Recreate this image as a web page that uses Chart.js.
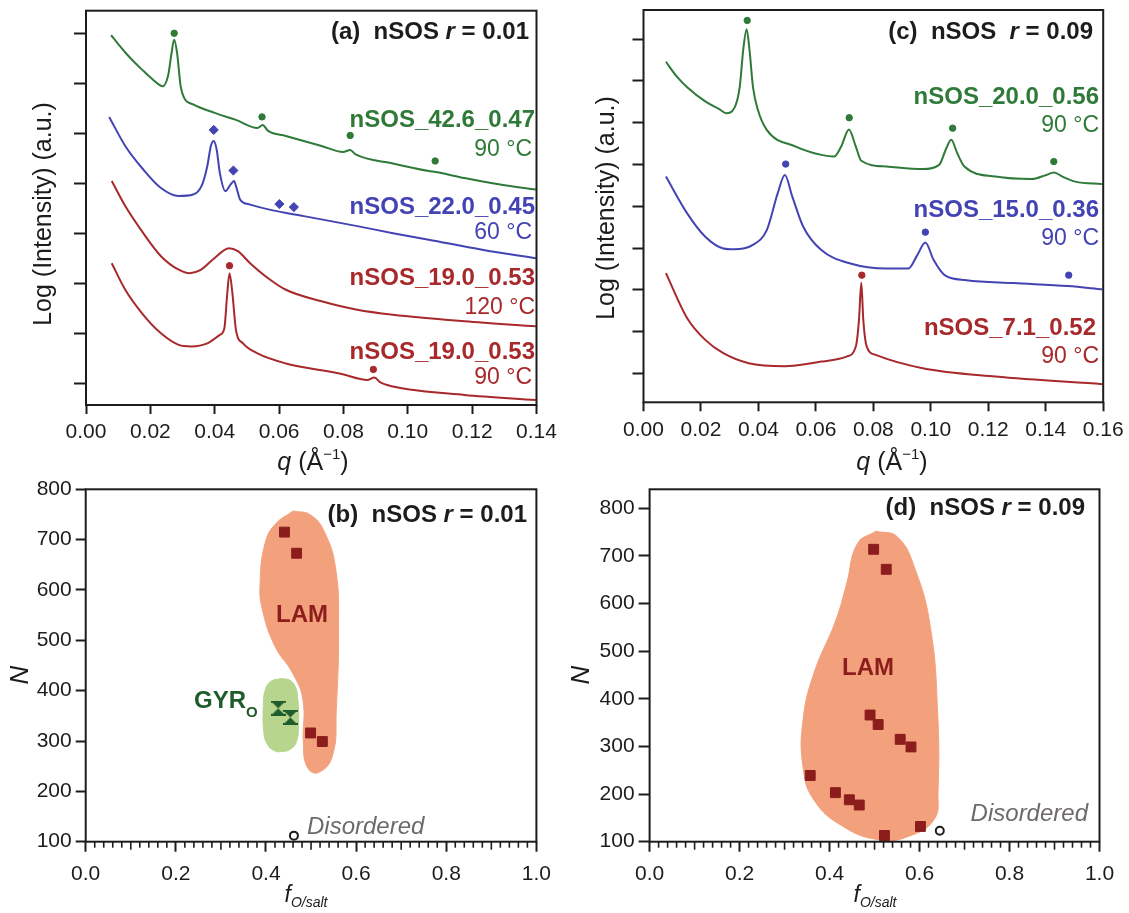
<!DOCTYPE html>
<html>
<head>
<meta charset="utf-8">
<script src="https://cdn.jsdelivr.net/npm/chart.js@4.4.0/dist/chart.umd.min.js"></script>
<style>
  body { margin: 0; background: #fff; }
  #wrap { position: relative; width: 1129px; height: 913px; }
  #wrap canvas { position: absolute; left: 0; top: 0; }
</style>
</head>
<body>
<div id="wrap">
  <canvas id="chartA" width="1129" height="913"></canvas>
  <canvas id="chartC" width="1129" height="913"></canvas>
  <canvas id="chartB" width="1129" height="913"></canvas>
  <canvas id="chartD" width="1129" height="913"></canvas>
</div>
<script>
// ---- (a) nSOS r = 0.01 : SAXS curves, q in 1/A, log intensity shifted (a.u.)
const aXTicks = [0, 0.02, 0.04, 0.06, 0.08, 0.10, 0.12, 0.14];
const aYTicks = [0, 1, 2, 3, 4, 5, 6, 7];

const aGreenQ = [0.0078, 0.0102, 0.0127, 0.0152, 0.0178, 0.0205, 0.0228, 0.0238, 0.0255, 0.0266, 0.0274, 0.0283, 0.0294, 0.0305, 0.0333, 0.0400, 0.0466, 0.0533, 0.0549, 0.0566, 0.0621, 0.0732, 0.0799, 0.0821, 0.0838, 0.0954, 0.1065, 0.1087, 0.1176, 0.1287, 0.1398];
const aGreenI = [6.96, 6.77, 6.58, 6.41, 6.25, 6.09, 5.97, 5.94, 6.15, 6.61, 6.87, 6.61, 5.95, 5.71, 5.58, 5.41, 5.27, 5.11, 5.17, 5.05, 4.95, 4.75, 4.63, 4.67, 4.58, 4.40, 4.25, 4.23, 4.11, 3.98, 3.88];

const aBlueQ = [0.0072, 0.0122, 0.0178, 0.0233, 0.0288, 0.0333, 0.0361, 0.0377, 0.0388, 0.0397, 0.0406, 0.0416, 0.0433, 0.0449, 0.0460, 0.0468, 0.0479, 0.0510, 0.0577, 0.0677, 0.0843, 0.0954, 0.1065, 0.1231, 0.1398];
const aBlueI = [5.33, 4.75, 4.28, 3.91, 3.75, 3.78, 3.98, 4.35, 4.75, 4.85, 4.68, 4.21, 3.85, 3.98, 4.05, 3.91, 3.68, 3.58, 3.47, 3.35, 3.15, 3.01, 2.88, 2.68, 2.51];

const aRed120Q = [0.0080, 0.0122, 0.0178, 0.0233, 0.0288, 0.0322, 0.0355, 0.0399, 0.0444, 0.0472, 0.0510, 0.0566, 0.0621, 0.0732, 0.0843, 0.0954, 0.1176, 0.1398];
const aRed120I = [4.05, 3.55, 3.01, 2.55, 2.28, 2.21, 2.27, 2.51, 2.71, 2.65, 2.41, 2.11, 1.88, 1.65, 1.48, 1.38, 1.25, 1.15];

const aRed90Q = [0.0080, 0.0122, 0.0178, 0.0233, 0.0288, 0.0327, 0.0377, 0.0416, 0.0430, 0.0439, 0.0446, 0.0455, 0.0466, 0.0488, 0.0533, 0.0621, 0.0788, 0.0876, 0.0896, 0.0915, 0.0954, 0.1176, 0.1398];
const aRed90I = [2.41, 1.88, 1.38, 1.01, 0.78, 0.75, 0.81, 0.98, 1.11, 1.81, 2.21, 1.81, 1.08, 0.81, 0.61, 0.41, 0.21, 0.08, 0.13, 0.03, -0.05, -0.22, -0.32];

// peak markers (a)
const aGreenPeakQ = [0.0274, 0.0547, 0.0821, 0.1085];
const aGreenPeakI = [7.00, 5.33, 4.96, 4.45];
const aBluePeakQ = [0.0397, 0.0458, 0.0601, 0.0646];
const aBluePeakI = [5.07, 4.26, 3.59, 3.53];
const aRedPeakQ = [0.0446, 0.0893];
const aRedPeakI = [2.36, 0.29];

// ---- (c) nSOS r = 0.09
const cXTicks = [0, 0.02, 0.04, 0.06, 0.08, 0.10, 0.12, 0.14, 0.16];
const cYTicks = [0, 1, 2, 3, 4, 5, 6, 7, 8];

const cGreenQ = [0.0078, 0.0114, 0.0152, 0.0215, 0.0265, 0.0288, 0.0316, 0.0335, 0.0347, 0.0359, 0.0369, 0.0381, 0.0398, 0.0429, 0.0530, 0.0619, 0.0663, 0.0688, 0.0715, 0.0739, 0.0758, 0.0846, 0.0972, 0.1029, 0.1054, 0.1071, 0.1092, 0.1117, 0.1225, 0.1351, 0.1402, 0.1429, 0.1458, 0.1503, 0.1597];
const cGreenI = [7.46, 7.12, 6.85, 6.51, 6.32, 6.23, 6.35, 6.86, 7.74, 8.24, 7.74, 6.86, 6.31, 5.83, 5.43, 5.23, 5.19, 5.43, 5.84, 5.43, 5.09, 4.95, 4.89, 4.99, 5.39, 5.59, 5.27, 4.95, 4.71, 4.65, 4.75, 4.81, 4.71, 4.59, 4.53];

const cBlueQ = [0.0078, 0.0152, 0.0215, 0.0278, 0.0316, 0.0379, 0.0429, 0.0467, 0.0492, 0.0518, 0.0556, 0.0619, 0.0720, 0.0846, 0.0922, 0.0953, 0.0981, 0.1010, 0.1048, 0.1124, 0.1288, 0.1477, 0.1597];
const cBlueI = [4.71, 3.83, 3.27, 2.99, 2.97, 3.07, 3.43, 4.31, 4.75, 4.23, 3.51, 2.95, 2.63, 2.51, 2.51, 2.83, 3.13, 2.71, 2.35, 2.23, 2.16, 2.09, 2.01];

const cRedQ = [0.0078, 0.0152, 0.0215, 0.0278, 0.0366, 0.0492, 0.0619, 0.0707, 0.0739, 0.0750, 0.0758, 0.0765, 0.0777, 0.0808, 0.0972, 0.1225, 0.1597];
const cRedI = [2.40, 1.32, 0.80, 0.48, 0.24, 0.17, 0.28, 0.40, 0.64, 1.28, 2.17, 1.28, 0.64, 0.44, 0.12, -0.08, -0.26];

const cGreenPeakQ = [0.0361, 0.0716, 0.1076, 0.1428];
const cGreenPeakI = [8.45, 6.12, 5.87, 5.07];
const cBluePeakQ = [0.0495, 0.0981, 0.1480];
const cBluePeakI = [5.01, 3.38, 2.35];
const cRedPeakQ = [0.0760];
const cRedPeakI = [2.35];

// ---- (b) phase map r = 0.01 : f(O/salt) vs N
const fTicks = [0, 0.2, 0.4, 0.6, 0.8, 1.0];
const nTicks = [100, 200, 300, 400, 500, 600, 700, 800];

const bLamF = [0.441, 0.468, 0.499, 0.525];
const bLamN = [715, 673, 316, 299];
const bGyrF = [0.427, 0.454];
const bGyrN = [365, 347];
const bDisF = [0.462];
const bDisN = [112];
// outline of shaded phase regions
const bLamRegionF = [0.460, 0.420, 0.398, 0.387, 0.392, 0.420, 0.459, 0.482, 0.483, 0.491, 0.515, 0.547, 0.556, 0.561, 0.555, 0.531, 0.499];
const bLamRegionN = [757, 730, 693, 614, 561, 488, 435, 382, 296, 249, 237, 269, 362, 527, 640, 713, 749];
const bGyrRegionF = [0.433, 0.410, 0.398, 0.394, 0.395, 0.402, 0.418, 0.435, 0.455, 0.468, 0.472, 0.471, 0.465, 0.452];
const bGyrRegionN = [424, 418, 400, 370, 320, 295, 281, 279, 284, 300, 330, 380, 408, 421];

// ---- (d) phase map r = 0.09
const dLamF = [0.498, 0.526, 0.490, 0.508, 0.557, 0.581, 0.357, 0.413, 0.444, 0.466, 0.602, 0.522];
const dLamN = [714, 672, 366, 346, 315, 299, 239, 203, 188, 177, 132, 113];
const dDisF = [0.645];
const dDisN = [123];
const dLamRegionF = [0.503, 0.462, 0.438, 0.414, 0.365, 0.341, 0.341, 0.365, 0.430, 0.511, 0.575, 0.632, 0.641, 0.640, 0.624, 0.591, 0.551];
const dLamRegionN = [752, 726, 642, 565, 453, 355, 257, 188, 132, 104, 111, 146, 202, 376, 551, 670, 740];

// ---- styles
const FAM = '"Liberation Sans", Arial, Helvetica, sans-serif';
const INK = '#1c1c1c';
const GREEN = '#2f7a38';
const BLUE = '#4343b3';
const RED = '#a8292b';
const SQUARE = '#8c1d1d';
const LAM_FILL = '#f3a17d';
const GYR_FILL = '#b7d58c';
const GYR_MARK = '#1f5c2b';
const GRAY = '#6e6a6a';

const B = s => 'bold ' + s + 'px ' + FAM;
const BI = s => 'italic bold ' + s + 'px ' + FAM;
const R = s => s + 'px ' + FAM;
const I = s => 'italic ' + s + 'px ' + FAM;

function pts(xs, ys) {
  return xs.map((x, i) => ({ x: x, y: ys[i] }));
}

function curve(xs, ys, color) {
  return { data: pts(xs, ys), showLine: true, borderColor: color, borderWidth: 2,
           pointRadius: 0, cubicInterpolationMode: 'monotone', fill: false };
}

function marks(xs, ys, color, style, r) {
  return { data: pts(xs, ys), showLine: false, pointStyle: style, pointRadius: r,
           backgroundColor: color, borderColor: color, borderWidth: 1 };
}

function region(xs, ys, color) {
  const d = pts(xs, ys);
  d.push(d[0]);
  return { data: d, showLine: true, fill: 'shape', backgroundColor: color, borderColor: color,
           borderWidth: 1, pointRadius: 0, tension: 0.45 };
}

function hourglass(color, s) {
  const c = document.createElement('canvas');
  c.width = s; c.height = s;
  const g = c.getContext('2d');
  g.fillStyle = color;
  g.beginPath();
  g.moveTo(0, 0); g.lineTo(s, 0); g.lineTo(0, s); g.lineTo(s, s);
  g.closePath();
  g.fill();
  g.fillRect(0, 0, s, 2);
  g.fillRect(0, s - 2, s, 2);
  return c;
}

function axis(o) {
  return {
    type: 'linear', min: o.min, max: o.max,
    afterBuildTicks: s => { s.ticks = o.ticks.map(v => ({ value: v })); },
    afterFit: s => {
      if (o.width != null) s.width = o.width;
      if (o.height != null) s.height = o.height;
      s.paddingLeft = 0; s.paddingRight = 0; s.paddingTop = 0; s.paddingBottom = 0;
    },
    border: { display: false },
    grid: { drawOnChartArea: false, drawTicks: true, tickLength: o.tickLength, tickWidth: 2, tickColor: INK },
    ticks: { display: !!o.label, callback: o.label, padding: o.pad || 4, color: INK,
             font: { family: FAM, size: 21 }, maxRotation: 0, autoSkip: false }
  };
}

function drawRuns(ctx, t) {
  ctx.save();
  ctx.translate(t.x, t.y);
  if (t.rot) ctx.rotate(t.rot);
  let total = 0;
  t.runs.forEach(r => { ctx.font = r[1]; total += ctx.measureText(r[0]).width; });
  let cx = t.align === 'right' ? -total : t.align === 'center' ? -total / 2 : 0;
  ctx.textBaseline = 'middle';
  ctx.textAlign = 'left';
  t.runs.forEach(r => {
    ctx.font = r[1];
    ctx.fillStyle = r[2];
    ctx.fillText(r[0], cx, r[3] || 0);
    cx += ctx.measureText(r[0]).width;
  });
  ctx.restore();
}

// frame box, minor ticks and the free text of one panel
function deco(texts, minor) {
  return {
    id: 'deco',
    afterDraw(chart) {
      const ctx = chart.ctx, a = chart.chartArea;
      ctx.save();
      ctx.strokeStyle = INK;
      ctx.lineWidth = 2;
      ctx.strokeRect(a.left, a.top, a.right - a.left, a.bottom - a.top);
      if (minor) {
        const xs = chart.scales.x;
        ctx.lineWidth = 1.6;
        for (let k = 1; k < 50; k++) {
          if (k % 10 === 0) continue;
          const px = xs.getPixelForValue(k * 0.02);
          ctx.beginPath();
          ctx.moveTo(px, a.bottom);
          ctx.lineTo(px, a.bottom + (k % 5 === 0 ? 8 : 6));
          ctx.stroke();
        }
      }
      ctx.restore();
      texts.forEach(t => drawRuns(ctx, t));
    }
  };
}

function baseOptions(pad, x, y) {
  return {
    responsive: false, animation: false, events: [],
    layout: { padding: pad },
    plugins: { legend: { display: false }, tooltip: { enabled: false } },
    scales: { x: x, y: y }
  };
}

const qTitle = cx => ({ x: cx, y: 463, align: 'center',
  runs: [['q', I(25), INK], [' (Å', R(25), INK], ['\u22121', R(15), INK, -8], [')', R(25), INK]] });
const logTitle = (cx, cy) => ({ x: cx, y: cy, rot: -Math.PI / 2, align: 'center',
  runs: [['Log (Intensity) (a.u.)', R(25), INK]] });
const fTitle = cx => ({ x: cx, y: 896, align: 'center',
  runs: [['f', I(23), INK], ['O/salt', I(14), INK, 7]] });
const nTitle = cx => ({ x: cx, y: 675, rot: -Math.PI / 2, align: 'center',
  runs: [['N', I(26), INK]] });

// ---- chart (a)
const textsA = [
  { x: 529, y: 32, align: 'right', runs: [['(a)  nSOS ', B(24), INK], ['r', BI(24), INK], [' = 0.01', B(24), INK]] },
  { x: 535, y: 120, align: 'right', runs: [['nSOS_42.6_0.47', B(24), GREEN]] },
  { x: 532, y: 150, align: 'right', runs: [['90 °C', R(23), GREEN]] },
  { x: 535, y: 207, align: 'right', runs: [['nSOS_22.0_0.45', B(24), BLUE]] },
  { x: 532, y: 233, align: 'right', runs: [['60 °C', R(23), BLUE]] },
  { x: 535, y: 278, align: 'right', runs: [['nSOS_19.0_0.53', B(24), RED]] },
  { x: 535, y: 308, align: 'right', runs: [['120 °C', R(23), RED]] },
  { x: 535, y: 352, align: 'right', runs: [['nSOS_19.0_0.53', B(24), RED]] },
  { x: 532, y: 378, align: 'right', runs: [['90 °C', R(23), RED]] },
  logTitle(44, 214),
  qTitle(313)
];

new Chart(document.getElementById('chartA'), {
  type: 'scatter',
  data: {
    datasets: [
      marks(aGreenPeakQ, aGreenPeakI, GREEN, 'circle', 3.2),
      marks(aBluePeakQ, aBluePeakI, BLUE, 'rectRot', 4.6),
      marks(aRedPeakQ, aRedPeakI, RED, 'circle', 3.2),
      curve(aGreenQ, aGreenI, GREEN),
      curve(aBlueQ, aBlueI, BLUE),
      curve(aRed120Q, aRed120I, RED),
      curve(aRed90Q, aRed90I, RED)
    ]
  },
  options: baseOptions({ left: 0, right: 592.5, top: 10.7, bottom: 448 },
    axis({ min: 0, max: 0.14, ticks: aXTicks, height: 60, tickLength: 9, pad: 6, label: v => v.toFixed(2) }),
    axis({ min: -0.42, max: 7.45, ticks: aYTicks, width: 86, tickLength: 12 })),
  plugins: [deco(textsA, false)]
});

// ---- chart (c)
const textsC = [
  { x: 1093, y: 32, align: 'right', runs: [['(c)  nSOS  ', B(24), INK], ['r', BI(24), INK], [' = 0.09', B(24), INK]] },
  { x: 1099, y: 97, align: 'right', runs: [['nSOS_20.0_0.56', B(24), GREEN]] },
  { x: 1099, y: 126, align: 'right', runs: [['90 °C', R(23), GREEN]] },
  { x: 1099, y: 210, align: 'right', runs: [['nSOS_15.0_0.36', B(24), BLUE]] },
  { x: 1099, y: 239, align: 'right', runs: [['90 °C', R(23), BLUE]] },
  { x: 1096, y: 328, align: 'right', runs: [['nSOS_7.1_0.52', B(24), RED]] },
  { x: 1099, y: 357, align: 'right', runs: [['90 °C', R(23), RED]] },
  logTitle(607, 208),
  qTitle(892)
];

new Chart(document.getElementById('chartC'), {
  type: 'scatter',
  data: {
    datasets: [
      marks(cGreenPeakQ, cGreenPeakI, GREEN, 'circle', 3.2),
      marks(cBluePeakQ, cBluePeakI, BLUE, 'circle', 3.2),
      marks(cRedPeakQ, cRedPeakI, RED, 'circle', 3.2),
      curve(cGreenQ, cGreenI, GREEN),
      curve(cBlueQ, cBlueI, BLUE),
      curve(cRedQ, cRedI, RED)
    ]
  },
  options: baseOptions({ left: 583.5, right: 25.8, top: 10, bottom: 450.7 },
    axis({ min: 0, max: 0.16, ticks: cXTicks, height: 60, tickLength: 9, pad: 6, label: v => v.toFixed(2) }),
    axis({ min: -0.695, max: 8.70, ticks: cYTicks, width: 60, tickLength: 11 })),
  plugins: [deco(textsC, false)]
});

// ---- chart (b)
const textsB = [
  { x: 527, y: 515, align: 'right', runs: [['(b)  nSOS ', B(24), INK], ['r', BI(24), INK], [' = 0.01', B(24), INK]] },
  { x: 302, y: 615, align: 'center', runs: [['LAM', B(24), SQUARE]] },
  { x: 194, y: 701, align: 'left', runs: [['GYR', B(24), GYR_MARK], ['O', B(15), GYR_MARK, 12]] },
  { x: 307, y: 827, align: 'left', runs: [['Disordered', I(24), GRAY]] },
  nTitle(21),
  fTitle(306)
];

new Chart(document.getElementById('chartB'), {
  type: 'scatter',
  data: {
    datasets: [
      marks(bLamF, bLamN, SQUARE, 'rect', 7),
      marks(bGyrF, bGyrN, GYR_MARK, hourglass(GYR_MARK, 15), 7),
      { data: pts(bDisF, bDisN), showLine: false, pointStyle: 'circle', pointRadius: 4,
        backgroundColor: '#ffffff', borderColor: INK, borderWidth: 2 },
      region(bGyrRegionF, bGyrRegionN, GYR_FILL),
      region(bLamRegionF, bLamRegionN, LAM_FILL)
    ]
  },
  options: baseOptions({ left: 0, right: 592.6, top: 489.3, bottom: 11.3 },
    axis({ min: 0, max: 1, ticks: fTicks, height: 60, tickLength: 10, pad: 10, label: v => v.toFixed(1) }),
    axis({ min: 100, max: 800, ticks: nTicks, width: 85.7, tickLength: 10, pad: 4, label: v => String(v) })),
  plugins: [deco(textsB, true)]
});

// ---- chart (d)
const textsD = [
  { x: 1085, y: 508, align: 'right', runs: [['(d)  nSOS ', B(24), INK], ['r', BI(24), INK], [' = 0.09', B(24), INK]] },
  { x: 868, y: 668, align: 'center', runs: [['LAM', B(24), SQUARE]] },
  { x: 1088, y: 814, align: 'right', runs: [['Disordered', I(24), GRAY]] },
  nTitle(582),
  fTitle(875)
];

new Chart(document.getElementById('chartD'), {
  type: 'scatter',
  data: {
    datasets: [
      marks(dLamF, dLamN, SQUARE, 'rect', 7),
      { data: pts(dDisF, dDisN), showLine: false, pointStyle: 'circle', pointRadius: 4,
        backgroundColor: '#ffffff', borderColor: INK, borderWidth: 2 },
      region(dLamRegionF, dLamRegionN, LAM_FILL)
    ]
  },
  options: baseOptions({ left: 569.6, right: 29.5, top: 489.3, bottom: 11.3 },
    axis({ min: 0, max: 1, ticks: fTicks, height: 60, tickLength: 10, pad: 10, label: v => v.toFixed(1) }),
    axis({ min: 100, max: 840, ticks: nTicks, width: 80, tickLength: 11, pad: 4, label: v => String(v) })),
  plugins: [deco(textsD, true)]
});
</script>
</body>
</html>
